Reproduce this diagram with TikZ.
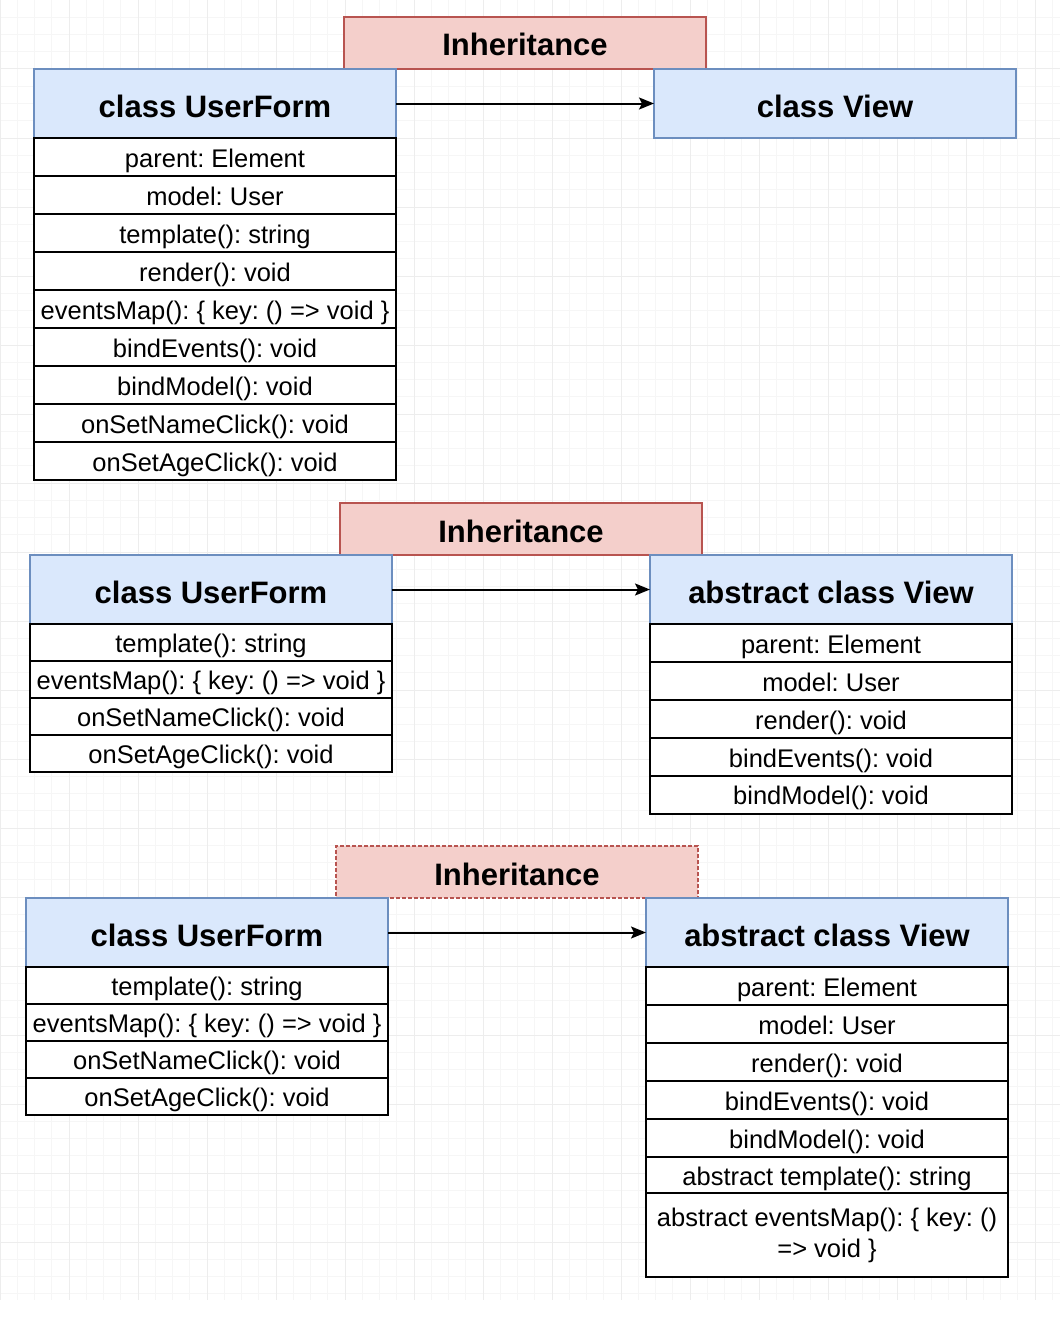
\documentclass[tikz,border=0pt]{standalone}
\usepackage{fontspec}
\setmainfont{Liberation Sans}
\usetikzlibrary{arrows.meta}
\definecolor{hdrfill}{HTML}{DAE8FC}
\definecolor{hdrdraw}{HTML}{6C8EBF}
\definecolor{inhfill}{HTML}{F4CFCB}
\definecolor{inhdraw}{HTML}{B85450}
\definecolor{gridminor}{HTML}{F6F6F6}
\definecolor{gridmajor}{HTML}{EDEDED}
\tikzset{
  hdr/.style={draw=hdrdraw, fill=hdrfill, line width=1.5pt, minimum width=362pt, minimum height=69pt, inner sep=0pt, outer sep=0pt, text height=28pt, text depth=0pt, font=\fontsize{31}{34}\selectfont\bfseries},
  inhbox/.style={draw=inhdraw, fill=inhfill, line width=1.5pt, minimum width=362pt, minimum height=52pt, inner sep=0pt, outer sep=0pt, text height=27pt, text depth=1pt, font=\fontsize{31}{34}\selectfont\bfseries},
  rowbox/.style={draw=black, fill=white, line width=2pt, minimum width=362pt, inner sep=0pt, outer sep=0pt, font=\fontsize{25.5}{31}\selectfont, align=center},
  onerow/.style={rowbox, text height=24pt, text depth=4pt},
  conn/.style={line width=2pt, -{Stealth[length=15pt,width=12pt,inset=3pt]}},
}
\begin{document}
\frenchspacing
\begin{tikzpicture}[x=1pt,y=-1pt]
\useasboundingbox (0,0) rectangle (1060,1338);
\fill[white] (0,0) rectangle (1060,1338);
% faint grid
\foreach \i in {0,...,61} {\draw[gridminor, line width=1pt] (\i*17.25,0) -- (\i*17.25,1300);}
\foreach \j in {0,...,75} {\draw[gridminor, line width=1pt] (0,\j*17.25) -- (1060,\j*17.25);}
\foreach \i in {0,...,15} {\draw[gridmajor, line width=1pt] (\i*69,0) -- (\i*69,1300);}
\foreach \j in {0,...,18} {\draw[gridmajor, line width=1pt] (0,\j*69) -- (1060,\j*69);}

% ===== Panel 1 =====
\node[inhbox] (inh1) at (525,43) {Inheritance};
\node[hdr] (uf1) at (215,103.5) {class UserForm};
\node[hdr] (v1) at (835,103.5) {class View};
\node[onerow, minimum height=38pt] (uf1r1) at (215,157) {parent: Element};
\node[onerow, minimum height=38pt] (uf1r2) at (215,195) {model: User};
\node[onerow, minimum height=38pt] (uf1r3) at (215,233) {template(): string};
\node[onerow, minimum height=38pt] (uf1r4) at (215,271) {render(): void};
\node[onerow, minimum height=38pt] (uf1r5) at (215,309) {eventsMap(): \{ key: () => void \}};
\node[onerow, minimum height=38pt] (uf1r6) at (215,347) {bindEvents(): void};
\node[onerow, minimum height=38pt] (uf1r7) at (215,385) {bindModel(): void};
\node[onerow, minimum height=38pt] (uf1r8) at (215,423) {onSetNameClick(): void};
\node[onerow, minimum height=38pt] (uf1r9) at (215,461) {onSetAgeClick(): void};
\draw[conn] (uf1.east) -- (v1.west);

% ===== Panel 2 =====
\node[inhbox] (inh2) at (521,529) {Inheritance};
\node[hdr] (uf2) at (211,589.5) {class UserForm};
\node[hdr] (v2) at (831,589.5) {abstract class View};
\node[onerow, minimum height=37pt] (uf2r1) at (211,642.5) {template(): string};
\node[onerow, minimum height=37pt] (uf2r2) at (211,679.5) {eventsMap(): \{ key: () => void \}};
\node[onerow, minimum height=37pt] (uf2r3) at (211,716.5) {onSetNameClick(): void};
\node[onerow, minimum height=37pt] (uf2r4) at (211,753.5) {onSetAgeClick(): void};
\node[onerow, minimum height=38pt] (v2r1) at (831,643) {parent: Element};
\node[onerow, minimum height=38pt] (v2r2) at (831,681) {model: User};
\node[onerow, minimum height=38pt] (v2r3) at (831,719) {render(): void};
\node[onerow, minimum height=38pt] (v2r4) at (831,757) {bindEvents(): void};
\node[onerow, minimum height=38pt] (v2r5) at (831,794.5) {bindModel(): void};
\draw[conn] (uf2.east) -- (v2.west);

% ===== Panel 3 =====
\node[inhbox, dash pattern=on 4pt off 2pt] (inh3) at (517,872) {Inheritance};
\node[hdr] (uf3) at (207,932.5) {class UserForm};
\node[hdr] (v3) at (827,932.5) {abstract class View};
\node[onerow, minimum height=37pt] (uf3r1) at (207,985.5) {template(): string};
\node[onerow, minimum height=37pt] (uf3r2) at (207,1022.5) {eventsMap(): \{ key: () => void \}};
\node[onerow, minimum height=37pt] (uf3r3) at (207,1059.5) {onSetNameClick(): void};
\node[onerow, minimum height=37pt] (uf3r4) at (207,1096.5) {onSetAgeClick(): void};
\node[onerow, minimum height=38pt] (v3r1) at (827,986) {parent: Element};
\node[onerow, minimum height=38pt] (v3r2) at (827,1024) {model: User};
\node[onerow, minimum height=38pt] (v3r3) at (827,1062) {render(): void};
\node[onerow, minimum height=38pt] (v3r4) at (827,1100) {bindEvents(): void};
\node[onerow, minimum height=38pt] (v3r5) at (827,1138) {bindModel(): void};
\node[onerow, minimum height=36pt] (v3r6) at (827,1175) {abstract template(): string};
\node[rowbox, minimum height=84pt] (v3r7) at (827,1235) {\vspace*{6pt}abstract eventsMap(): \{ key: ()\\=> void \}};
\draw[conn] (uf3.east) -- (v3.west);
\end{tikzpicture}
\end{document}
